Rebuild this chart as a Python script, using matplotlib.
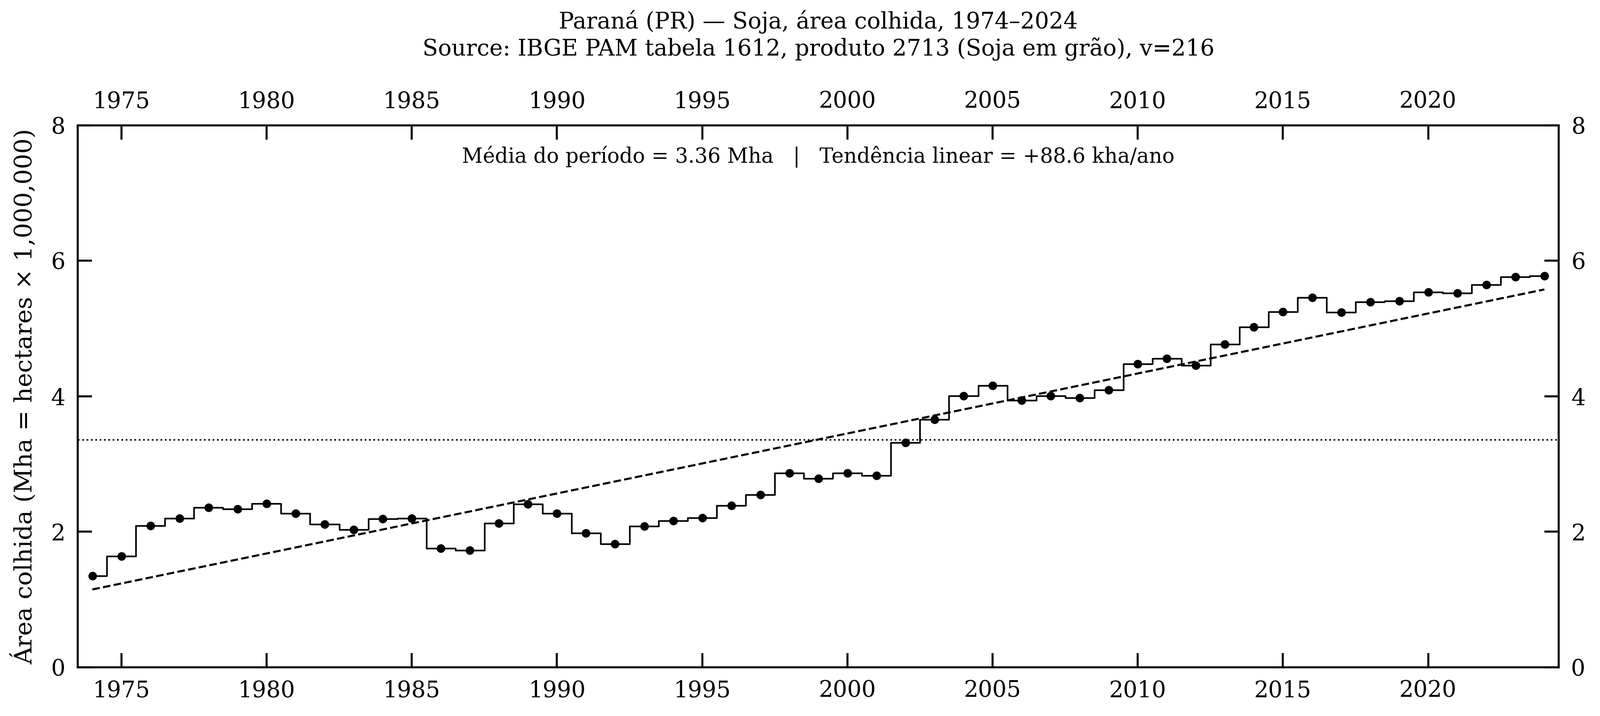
import numpy as np
import matplotlib
matplotlib.use("Agg")
import matplotlib.pyplot as plt

plt.rcParams['font.family'] = 'DejaVu Serif'
plt.rcParams['font.size'] = 10

# area colhida de soja no PR, milhoes de ha
anos = np.arange(1974, 2025)
area = [1.35, 1.64, 2.09, 2.20, 2.36, 2.34, 2.42, 2.27, 2.11, 2.03,
        2.19, 2.20, 1.76, 1.73, 2.13, 2.41, 2.27, 1.98, 1.82, 2.08,
        2.16, 2.21, 2.39, 2.55, 2.87, 2.79, 2.87, 2.83, 3.32, 3.66,
        4.01, 4.16, 3.94, 4.01, 3.98, 4.09, 4.48, 4.56, 4.46, 4.77,
        5.02, 5.25, 5.46, 5.24, 5.39, 5.41, 5.54, 5.52, 5.65, 5.76,
        5.78]
area = np.array(area)

media = area.mean()
coef = np.polyfit(anos, area, 1)
tend = np.polyval(coef, anos)

fig = plt.figure(figsize=(3254/300, 1456/300), dpi=300)
ax = fig.add_axes([0.0486, 0.068, 0.9254, 0.757])

ax.step(anos, area, where='mid', color='k', lw=0.8, marker='o', ms=3.2)
ax.plot(anos, tend, 'k--', lw=1.0)
ax.axhline(media, color='k', ls=':', lw=0.8)

ax.set_xlim(1973.5, 2024.5)
ax.set_ylim(0, 8)
ax.set_xticks(np.arange(1975, 2021, 5))
ax.set_yticks([0, 2, 4, 6, 8])
ax.tick_params(direction='in', top=True, right=True, labeltop=True,
               labelright=True, length=7, width=1.0, labelsize=11, pad=6)
for s in ax.spines.values():
    s.set_linewidth(1.0)

ax.set_ylabel('Área colhida (Mha = hectares × 1,000,000)', fontsize=11.8, labelpad=7)
ax.set_title('Paraná (PR) — Soja, área colhida, 1974–2024\n'
             'Source: IBGE PAM tabela 1612, produto 2713 (Soja em grão), v=216',
             fontsize=11, pad=17)
ax.text(0.5, 0.962,
        'Média do período = %.2f Mha   |   Tendência linear = +%.1f kha/ano'
        % (media, coef[0]*1000),
        transform=ax.transAxes, ha='center', va='top', fontsize=10)

fig.savefig('out.png', dpi=300)
